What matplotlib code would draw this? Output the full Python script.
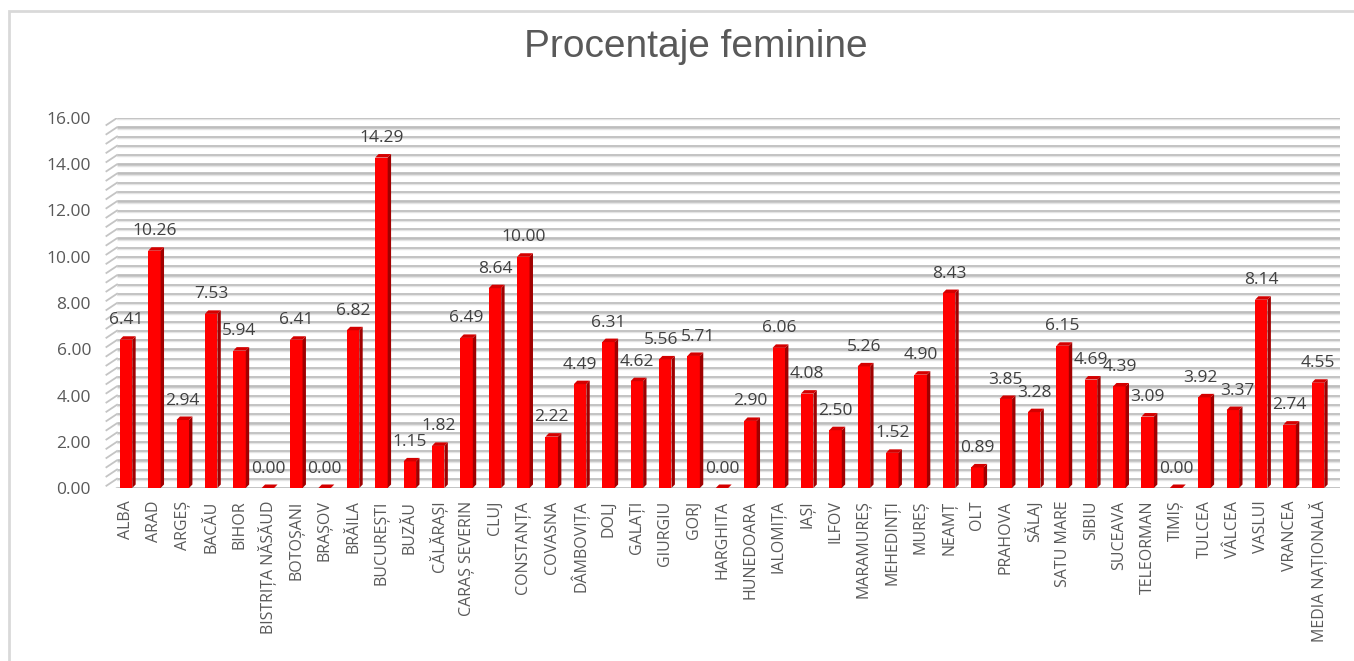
import matplotlib
matplotlib.use("Agg")
import matplotlib.pyplot as plt
from matplotlib.patches import Polygon, Rectangle
import numpy as np

categories = ["ALBA", "ARAD", "ARGEȘ", "BACĂU", "BIHOR", "BISTRIȚA NĂSĂUD", "BOTOȘANI",
              "BRAȘOV", "BRĂILA", "BUCUREȘTI", "BUZĂU", "CĂLĂRAȘI", "CARAȘ SEVERIN", "CLUJ",
              "CONSTANȚA", "COVASNA", "DÂMBOVIȚA", "DOLJ", "GALAȚI", "GIURGIU", "GORJ",
              "HARGHITA", "HUNEDOARA", "IALOMIȚA", "IAȘI", "ILFOV", "MARAMUREȘ", "MEHEDINȚI",
              "MUREȘ", "NEAMȚ", "OLT", "PRAHOVA", "SĂLAJ", "SATU MARE", "SIBIU", "SUCEAVA",
              "TELEORMAN", "TIMIȘ", "TULCEA", "VÂLCEA", "VASLUI", "VRANCEA", "MEDIA NAȚIONALĂ"]
values = [6.41, 10.26, 2.94, 7.53, 5.94, 0.00, 6.41,
          0.00, 6.82, 14.29, 1.15, 1.82, 6.49, 8.64,
          10.00, 2.22, 4.49, 6.31, 4.62, 5.56, 5.71,
          0.00, 2.90, 6.06, 4.08, 2.50, 5.26, 1.52,
          4.90, 8.43, 0.89, 3.85, 3.28, 6.15, 4.69, 4.39,
          3.09, 0.00, 3.92, 3.37, 8.14, 2.74, 4.55]
y_ticks = [0, 2, 4, 6, 8, 10, 12, 14, 16]
title = "Procentaje feminine"

# small horizontal nudges (in points) for crowded data labels
label_nudge = {"GIURGIU": -3, "GORJ": 3, "TULCEA": -3, "VÂLCEA": 3}

W, H = 1354, 661
fig = plt.figure(figsize=(W / 100, H / 100), dpi=100)
fig.patch.set_facecolor("white")

# chart frame
fig.add_artist(Rectangle((9 / W, -0.01), 1.2, (H - 11) / H + 0.01, transform=fig.transFigure,
                         fill=False, edgecolor="#d9d9d9", linewidth=2))

# axes placement (pixels)
x_left_px, x_right_px = 105, 1340
y0_px, y16_px = 488, 118
ax = fig.add_axes([x_left_px / W, (H - y0_px) / H, (x_right_px - x_left_px) / W, (y0_px - y16_px) / H])

n = len(categories)
first_c, last_c = 126, 1318
step = (last_c - first_c) / (n - 1)
xmin = (x_left_px - first_c) / step
xmax = (x_right_px - first_c) / step
ax.set_xlim(xmin, xmax)
ax.set_ylim(0, 16)

px_per_unit_y = (y0_px - y16_px) / 16.0
wall_x = (117 - first_c) / step
dy = 3.5 / px_per_unit_y  # depth offset in data units

# gridlines (every 0.4) with slanted wall segments
for g in np.arange(0, 16.0001, 0.4):
    ax.plot([wall_x, xmax], [g, g], color="#bdbdbd", lw=2.0, zorder=1, solid_capstyle="butt")
    ax.plot([wall_x, xmax], [g - 0.06, g - 0.06], color="#e4e4e4", lw=1.0, zorder=1.1, solid_capstyle="butt")
    ax.plot([xmin + 0.05, wall_x], [g - 2 * dy, g], color="#c4c4c4", lw=1.3, zorder=1)

x = np.arange(n)
front_w = 0.44
side_w = 0.12
front_color = "#ff0000"
side_color = "#a00000"
top_color = "#d40000"

ax.bar(x, values, width=front_w, color=front_color, zorder=3, linewidth=0)
for xi, v, cat in zip(x, values, categories):
    xl = xi - front_w / 2
    xr = xi + front_w / 2
    side = Polygon([(xr, 0), (xr + side_w, dy), (xr + side_w, v + dy), (xr, v)],
                   closed=True, facecolor=side_color, edgecolor="none", zorder=3)
    top = Polygon([(xl, v), (xr, v), (xr + side_w, v + dy), (xl + side_w, v + dy)],
                  closed=True, facecolor=top_color, edgecolor="none", zorder=3)
    ax.add_patch(side)
    ax.add_patch(top)
    ax.annotate(f"{v:.2f}", (xi, v), xytext=(label_nudge.get(cat, 0), 14), textcoords="offset points",
                ha="center", va="center", fontsize=12.5, color="#404040",
                family="Open Sans", zorder=5)

ax.set_xticks(x)
ax.set_xticklabels(categories, rotation=90, fontsize=11.5, color="#595959", family="Open Sans")
ax.set_yticks(y_ticks)
ax.set_yticklabels([f"{t:.2f}" for t in y_ticks], fontsize=12.5, color="#595959", family="Open Sans")
ax.tick_params(axis="x", length=0, pad=9)
ax.tick_params(axis="y", length=0, pad=10)
for s in ax.spines.values():
    s.set_visible(False)
ax.patch.set_alpha(0)

fig.text(0.514, (H - 57) / H, title, ha="center", va="baseline", fontsize=28,
         color="#595959", family="Liberation Sans")

fig.savefig("out.png", dpi=100)
